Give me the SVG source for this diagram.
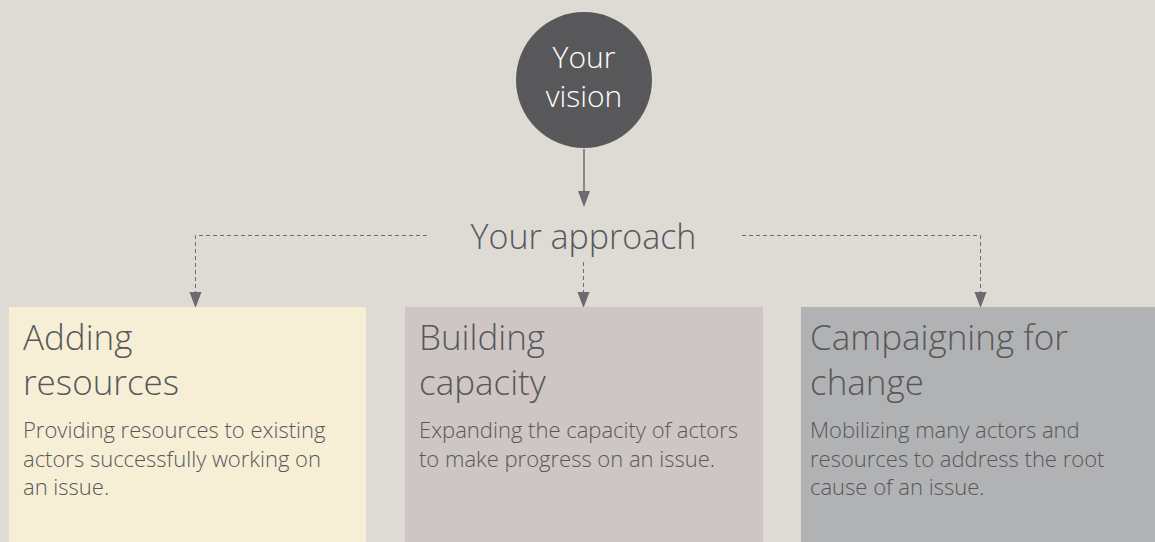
<svg xmlns="http://www.w3.org/2000/svg" width="1155" height="542" viewBox="0 0 1155 542">
  <defs>
    <style>
      .t { font-family: "Open Sans", "Liberation Sans", sans-serif; font-weight: 300; fill: #58585a; }
      .title { font-size: 35px; }
      .body { font-size: 22px; }
      .solid { stroke: #6d6d6f; stroke-width: 1.5; fill: none; }
      .dash { stroke: #6d6d6f; stroke-width: 1; stroke-dasharray: 4 3; fill: none; }
      .head { fill: #6b6b6d; }
    </style>
  </defs>
  <rect x="0" y="0" width="1155" height="542" fill="#dedad4"/>

  <g id="connectors">
    <line class="solid" x1="584" y1="149" x2="584" y2="192"/>
    <path class="head" d="M578,191 L590,191 L584,207 Z"/>
    <path class="dash" d="M427,235.5 H195.5 V293"/>
    <path class="head" d="M189.5,292 L201.5,292 L195.5,308 Z"/>
    <path class="dash" d="M583.5,262 V293"/>
    <path class="head" d="M577.5,292 L589.5,292 L583.5,308 Z"/>
    <path class="dash" d="M742,235.5 H980.5 V293"/>
    <path class="head" d="M974.5,292 L986.5,292 L980.5,308 Z"/>
  </g>

  <g id="vision">
    <circle cx="584" cy="80" r="68" fill="#58585a"/>
    <text class="t" x="584" y="68" text-anchor="middle" font-size="30" style="fill:#ffffff">Your</text>
    <text class="t" x="584" y="107" text-anchor="middle" font-size="30" style="fill:#ffffff">vision</text>
  </g>

  <g id="approach">
    <text class="t" x="583.5" y="249" text-anchor="middle" font-size="34">Your approach</text>
  </g>

  <g id="adding">
    <rect x="9" y="307" width="357" height="235" fill="#f6efd6"/>
    <text class="t title" x="23" y="350">Adding</text>
    <text class="t title" x="23" y="395">resources</text>
    <text class="t body" x="23" y="438">Providing resources to existing</text>
    <text class="t body" x="23" y="467">actors successfully working on</text>
    <text class="t body" x="23" y="495">an issue.</text>
  </g>

  <g id="building">
    <rect x="405" y="307" width="358" height="235" fill="#cec6c4"/>
    <text class="t title" x="419" y="350">Building</text>
    <text class="t title" x="419" y="395">capacity</text>
    <text class="t body" x="419" y="438">Expanding the capacity of actors</text>
    <text class="t body" x="419" y="467">to make progress on an issue.</text>
  </g>

  <g id="campaigning">
    <rect x="801" y="307" width="354" height="235" fill="#b1b2b4"/>
    <text class="t title" x="810" y="350">Campaigning for</text>
    <text class="t title" x="810" y="395">change</text>
    <text class="t body" x="810" y="438">Mobilizing many actors and</text>
    <text class="t body" x="810" y="467">resources to address the root</text>
    <text class="t body" x="810" y="495">cause of an issue.</text>
  </g>
</svg>
